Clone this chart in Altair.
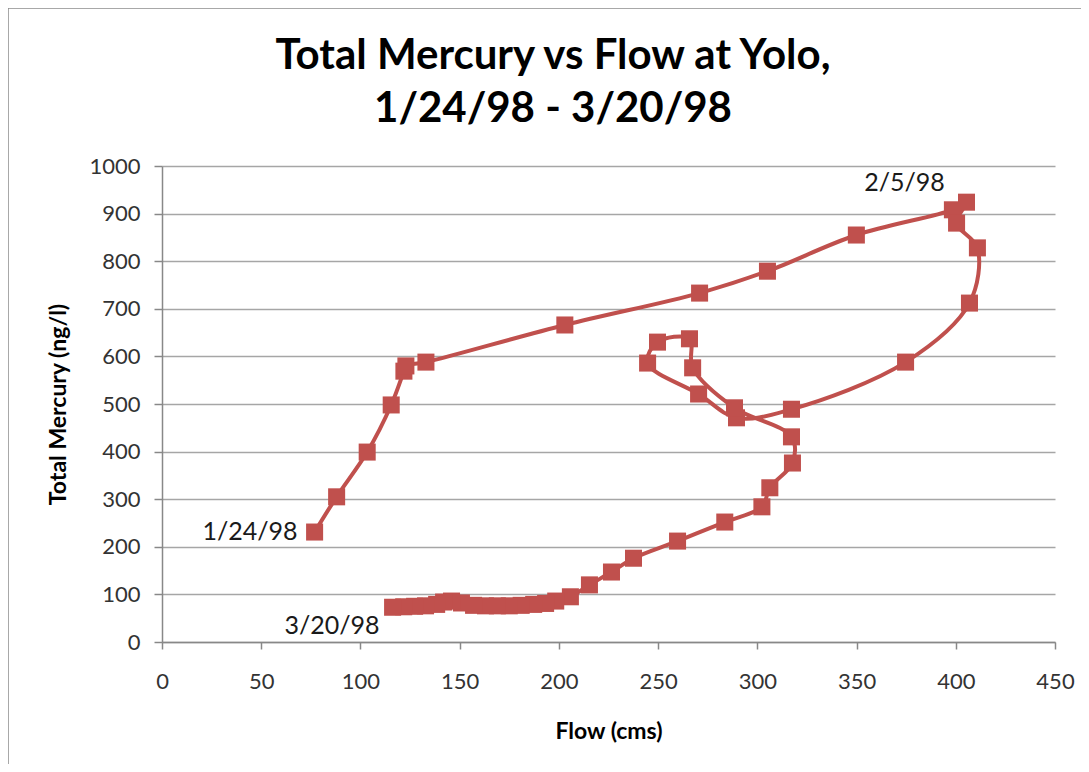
import altair as alt
import pandas as pd

flow = [76.9, 88.0, 103.4, 115.5, 121.9, 122.9, 133.0, 203.0, 270.9, 305.1,
        349.9, 398.3, 405.4, 400.4, 410.9, 406.9, 374.7, 317.2, 289.5, 270.4,
        244.7, 249.7, 265.8, 267.4, 288.5, 317.2, 317.7, 306.3, 302.3, 283.6,
        259.8, 237.6, 226.5, 215.4, 205.8, 198.4, 193.3, 187.3, 181.0, 175.0,
        169.0, 163.0, 157.0, 150.9, 145.9, 141.9, 138.4, 132.8, 127.3, 121.8, 116.2]
mercury = [231, 305, 399, 498, 569, 580, 588, 666, 733, 779,
           855, 908, 924, 880, 828, 712, 588, 489, 471, 521,
           586, 630, 637, 576, 492, 431, 376, 324, 284, 252,
           212, 176, 147, 120, 95, 86, 81, 79, 77, 76,
           76, 76, 77, 82, 86, 84, 79, 76, 75, 74, 73]

label_text = ["1/24/98", "2/5/98", "3/20/98"]
label_flow = [76.9, 405.4, 116.2]
label_hg = [231, 924, 73]

title_lines = ["Total Mercury vs Flow at Yolo,", "1/24/98 - 3/20/98"]

df = pd.DataFrame({"i": list(range(len(flow))), "flow": flow, "hg": mercury})
lab = pd.DataFrame({"t": label_text, "flow": label_flow, "hg": label_hg})

RED = "#C0504D"
FONT = "Lato"

xs = alt.X("flow:Q", scale=alt.Scale(domain=[0, 450], nice=False),
           axis=alt.Axis(title="Flow (cms)", values=list(range(0, 451, 50)), grid=False, format="d"))
ys = alt.Y("hg:Q", scale=alt.Scale(domain=[0, 1000], nice=False),
           axis=alt.Axis(title="Total Mercury (ng/l)", values=list(range(0, 1001, 100)), grid=True,
                         format="d"))

line = alt.Chart(df).mark_line(color=RED, strokeWidth=4, interpolate="catmull-rom").encode(
    x=xs, y=ys, order="i:Q")
pts = alt.Chart(df).mark_point(shape="square", filled=True, color=RED, size=290, opacity=1).encode(
    x="flow:Q", y="hg:Q")

lab1 = alt.Chart(lab.iloc[[0]]).mark_text(font=FONT, fontSize=25, align="right", dx=-17, dy=0,
                                          color="#1a1a1a").encode(x="flow:Q", y="hg:Q", text="t:N")
lab2 = alt.Chart(lab.iloc[[1]]).mark_text(font=FONT, fontSize=25, align="center", dx=-62, dy=-19,
                                          color="#1a1a1a").encode(x="flow:Q", y="hg:Q", text="t:N")
lab3 = alt.Chart(lab.iloc[[2]]).mark_text(font=FONT, fontSize=25, align="right", dx=-13, dy=19,
                                          color="#1a1a1a").encode(x="flow:Q", y="hg:Q", text="t:N")

t1 = alt.Chart(alt.Data(values=[{"t": title_lines[0]}])).mark_text(
    font=FONT, fontSize=42, fontWeight="bold", color="#000000", align="center", baseline="middle"
).encode(x=alt.value(391), y=alt.value(-110), text="t:N")
t2 = alt.Chart(alt.Data(values=[{"t": title_lines[1]}])).mark_text(
    font=FONT, fontSize=42, fontWeight="bold", color="#000000", align="center", baseline="middle"
).encode(x=alt.value(391), y=alt.value(-57), text="t:N")

border = alt.Chart(alt.Data(values=[{}])).mark_rect(fill=None, stroke="#8c8c8c", strokeWidth=1.5).encode(
    x=alt.value(-154), x2=alt.value(923), y=alt.value(-158), y2=alt.value(604))

chart = alt.layer(line, pts, lab1, lab2, lab3, t1, t2, border).properties(
    width=893, height=476,
    padding={"left": 154, "top": 158, "right": 26, "bottom": 122},
    autosize=alt.AutoSizeParams(type="none"),
).configure_view(stroke=None).configure_axis(
    labelFont=FONT, labelFontSize=22, labelColor="#333333", labelFlush=False,
    titleFont=FONT, titleFontSize=23, titleFontWeight="bold", titleColor="#000000",
    domainColor="#888888", domainWidth=1.5, tickColor="#888888", tickWidth=1.5,
    gridColor="#a6a6a6", gridWidth=1.5,
).configure_axisY(tickSize=8, labelPadding=14, titlePadding=18, domain=True
).configure_axisX(tickSize=7, labelPadding=22, titlePadding=28)

chart.save("out.html", embed_options={"renderer": "svg", "actions": False})
